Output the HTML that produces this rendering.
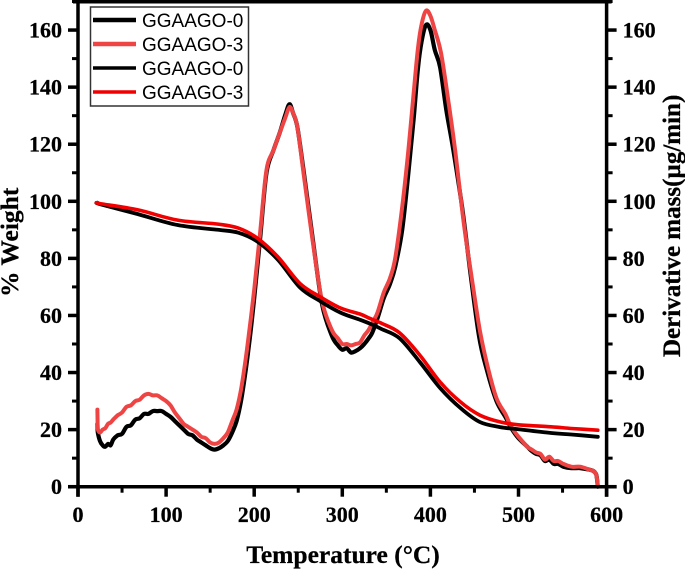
<!DOCTYPE html>
<html>
<head>
<meta charset="utf-8">
<style>
html,body{margin:0;padding:0;background:#fff;width:685px;height:569px;overflow:hidden}
svg{display:block}
.tick{font:bold 22px "Liberation Serif",serif;fill:#000;stroke:#000;stroke-width:.25px}
.leg{font:19px "Liberation Sans",sans-serif;fill:#000}
</style>
</head>
<body>
<svg id="chart" width="685" height="569" viewBox="0 0 685 569" xmlns="http://www.w3.org/2000/svg">
  <g id="series"></g>
  <g id="axes"></g>
  <text x="343" y="563" text-anchor="middle" stroke="#000" stroke-width=".25" style="font:bold 25.5px 'Liberation Serif',serif">Temperature (°C)</text>
  <text transform="translate(18,297) rotate(-90)" text-anchor="start" stroke="#000" stroke-width=".25" style="font:bold 25.5px 'Liberation Serif',serif">% Weight</text>
  <text transform="translate(680,357) rotate(-90)" text-anchor="start" stroke="#000" stroke-width=".25" style="font:bold 25px 'Liberation Serif',serif">Derivative mass(µg/min)</text>
  <g>
    <rect x="90.5" y="7" width="158" height="99" fill="#fff" stroke="#333" stroke-width="1.5"/>
    <line x1="93" x2="136" y1="20" y2="20" stroke="#000" stroke-width="4.5"/>
    <text class="leg" x="142" y="27">GGAAGO-0</text>
    <line x1="93" x2="136" y1="44" y2="44" stroke="#ee4444" stroke-width="4.5"/>
    <text class="leg" x="142" y="51">GGAAGO-3</text>
    <line x1="93" x2="136" y1="68" y2="68" stroke="#000" stroke-width="3.5"/>
    <text class="leg" x="142" y="75">GGAAGO-0</text>
    <line x1="93" x2="136" y1="92" y2="92" stroke="#f00000" stroke-width="3.5"/>
    <text class="leg" x="142" y="99">GGAAGO-3</text>
  </g>
</svg>
<script>
const xTicks = [0,100,200,300,400,500,600];
const yTicks = [0,20,40,60,80,100,120,140,160];
const xMinorTicks = [50,150,250,350,450,550];
const yMinorTicks = [10,30,50,70,90,110,130,150,170];

const deriv0T = [22,22.5,25,28,31,34,37,40,45,50,55,60,65,70,75,80,85,90,95,100,105,110,115,120,125,130,135,140,145,150,155,160,165,170,175,180,185,190,195,200,207,214,222,229,235,240,244,249,256,266,277,288,295,300,305,310,315,320,325,330,334,340,347,354,360,368,375,381,386,390,395,400,405,411,418,426,436,445,455,464,475,485,490,495,500,510,515,520,525,530,535,540,545,551,560,570,580,585,588,589,590];
const deriv0V = [22,19,16,14.5,14,15,14.5,16.5,18,18.5,21,21.5,23.5,24,25.5,25.5,26.5,26.5,26.5,25.5,24.5,23,21.5,20,18.5,18,16.5,15.5,14.5,13.5,13,13.5,14.5,16,19,23,30,40,52,66,88,110,118,124,130,134,131,126,111,88,64,53,49.5,48,48.5,47,47.5,48.5,50,52,54,59,66,71,77,90,110,129,147,156,161.8,160,153,147,132,118,98,76,53,41,30,24.5,21.5,19,17,14,12.5,11.5,11,9,9.5,8,8,7,6.5,6.5,6,5.5,4.5,3,0];
const deriv3T = [22,22.3,22.6,25,28,31,34,37,40,45,50,55,60,65,70,75,80,85,90,95,100,105,110,115,120,125,130,135,140,145,150,155,160,165,170,175,180,185,190,195,200,207,214,222,229,235,240,244,249,256,266,277,288,295,300,305,310,315,320,325,330,335,340,347,354,360,368,375,381,386,390,395,400,405,412,420,428,438,447,456,465,475,485,490,495,500,510,515,520,525,530,535,540,545,551,560,570,580,585,588,589,590];
const deriv3V = [27,22,20,19,20,20.5,22,22.5,23.5,25,26,28,28.5,30,30.5,32,32.5,32,32,31,30,28.5,26,24,22,21,20,19,17.5,17,15.5,15,15.5,17,19,23,27,34,44,56,69,90,111,118,124,129,133,131,126,110,87,65,55,52,50,50,49.5,50,50.5,53,55,58,61,68,73,80,98,118,138,154,162,166.8,165,160,152,136,118,92,73,55,42,31,25.5,22,19.5,17.5,14,13,12,11.5,9.5,10.5,9,9,8,7,7,6,5.5,4.5,3,0];
const weightT = [22,25,68,113,159,182,204,227,252,275,298,320,331,345,365,388,411,434,456,479,500,537,560,590];
const weight0V = [99.5,99,95.5,91.7,90,89,85.8,79.5,69.8,65,61,58.5,57.2,55.2,52,43.7,34.6,27.6,22.7,20.9,20.1,18.8,18.3,17.5];
const weight3V = [99.5,99.2,97,93.4,92,90.6,87,80.5,71.2,66.5,62.6,60.5,59,57.2,53.9,46.1,36.7,29.7,25.1,22.7,21.7,21,20.4,19.8];

const X = t => 78 + t * 0.881;
const Y = v => 486.7 - v * 2.854;
const NS = 'http://www.w3.org/2000/svg';
const seriesLayer = document.getElementById('series');
const axesLayer = document.getElementById('axes');

function addLine(layer, x1, y1, x2, y2, w) {
  const l = document.createElementNS(NS, 'line');
  
  
  l.setAttribute('x1', x1);
  l.setAttribute('y1', y1);
  l.setAttribute('x2', x2);
  l.setAttribute('y2', y2);
  l.setAttribute('stroke', '#000');
  l.setAttribute('stroke-width', w);
  layer.appendChild(l);
}
function addLabel(x, y, s, anchor) {
  const t = document.createElementNS(NS, 'text');
  
  
  t.setAttribute('class', 'tick');
  t.setAttribute('x', x);
  t.setAttribute('y', y);
  t.setAttribute('text-anchor', anchor);
  t.textContent = s;
  axesLayer.appendChild(t);
}
function smoothPath(ts, vs) {
  const px = ts.map(X), py = vs.map(Y);
  let d = 'M' + px[0].toFixed(1) + ' ' + py[0].toFixed(1);
  for (let i = 0; i < px.length - 1; i++) {
    const a = Math.max(i - 1, 0), b = Math.min(i + 2, px.length - 1);
    const c1x = px[i] + (px[i + 1] - px[a]) / 6, c1y = py[i] + (py[i + 1] - py[a]) / 6;
    const c2x = px[i + 1] - (px[b] - px[i]) / 6, c2y = py[i + 1] - (py[b] - py[i]) / 6;
    d += 'C' + c1x.toFixed(1) + ' ' + c1y.toFixed(1) + ' ' + c2x.toFixed(1) + ' ' + c2y.toFixed(1) + ' ' + px[i + 1].toFixed(1) + ' ' + py[i + 1].toFixed(1);
  }
  return d;
}
function addSeries(name, ts, vs, color, w) {
  const p = document.createElementNS(NS, 'path');
  
  
  p.setAttribute('fill', 'none');
  p.setAttribute('stroke', color);
  p.setAttribute('stroke-width', w);
  p.setAttribute('stroke-linejoin', 'round');
  p.setAttribute('stroke-linecap', 'round');
  p.setAttribute('d', smoothPath(ts, vs));
  seriesLayer.appendChild(p);
}

addSeries('derivative-line-ggaago-0', deriv0T, deriv0V, '#000', 4.2);
addSeries('derivative-line-ggaago-3', deriv3T, deriv3V, '#ee4444', 4);
addSeries('weight-line-ggaago-0', weightT, weight0V, '#000', 3.8);
addSeries('weight-line-ggaago-3', weightT, weight3V, '#f00000', 3.6);

const axisLeft = X(0), axisRight = X(600), axisBottom = Y(0);
addLine(axesLayer, axisLeft, 0, axisLeft, axisBottom + 10, 3.5);
addLine(axesLayer, axisRight, 0, axisRight, axisBottom + 10, 3.5);
addLine(axesLayer, axisLeft - 10, axisBottom, axisRight + 10, axisBottom, 3.5);
addLine(axesLayer, axisLeft - 5, 1.5, axisRight + 5, 1.5, 4);

xTicks.forEach(t => {
  addLine(axesLayer, X(t), axisBottom, X(t), axisBottom + 10, 3.5);
  addLabel(X(t), 522, String(t), 'middle');
});
xMinorTicks.forEach(t => addLine(axesLayer, X(t), axisBottom, X(t), axisBottom + 6, 3));
yTicks.forEach(v => {
  addLine(axesLayer, axisLeft - 10, Y(v), axisLeft, Y(v), 3.5);
  addLine(axesLayer, axisRight, Y(v), axisRight + 10, Y(v), 3.5);
  addLabel(axisLeft - 16, Y(v) + 7.5, String(v), 'end');
  addLabel(axisRight + 16, Y(v) + 7.5, String(v), 'start');
});
yMinorTicks.forEach(v => {
  addLine(axesLayer, axisLeft - 6, Y(v), axisLeft, Y(v), 3);
  addLine(axesLayer, axisRight, Y(v), axisRight + 6, Y(v), 3);
});
</script>
</body>
</html>
